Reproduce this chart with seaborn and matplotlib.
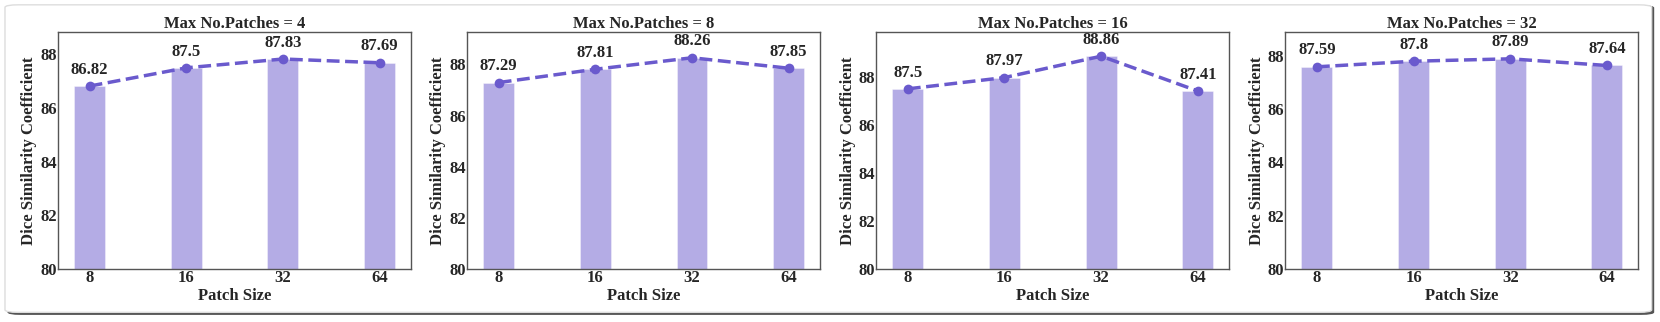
import numpy as np
import pandas as pd
import matplotlib.pyplot as plt
import seaborn as sns
from matplotlib.patches import FancyBboxPatch


# ==========================================
# DATA
# ==========================================

patch_sizes = ["8", "16", "32", "64"]

max_patches = [4, 8, 16, 32]

dice_p4 = [86.82, 87.5, 87.83, 87.69]
dice_p8 = [87.29, 87.81, 88.26, 87.85]
dice_p16 = [87.5, 87.97, 88.86, 87.41]
dice_p32 = [87.59, 87.8, 87.89, 87.64]

all_scores = [dice_p4, dice_p8, dice_p16, dice_p32]

y_ticks = [80, 82, 84, 86, 88]


# ==========================================
# STYLE
# ==========================================

sns.set_style("white")

plt.rcParams["font.family"] = ["Liberation Serif", "DejaVu Serif"]
plt.rcParams["font.weight"] = "bold"
plt.rcParams["axes.labelweight"] = "bold"
plt.rcParams["axes.titleweight"] = "bold"

line_color = "#6a5acd"


# ==========================================
# FIGURE
# ==========================================

fig, axes = plt.subplots(1, 4, figsize=(16.6, 3.22), dpi=100)

plt.subplots_adjust(
    left=0.035,
    right=0.987,
    bottom=0.165,
    top=0.90,
    wspace=0.159
)

# rounded frame with shadow round the whole figure
shadow = FancyBboxPatch(
    (0.0045, 0.022), 0.992, 0.962,
    boxstyle="round,pad=0,rounding_size=0.008",
    transform=fig.transFigure,
    facecolor="#555555",
    edgecolor="none",
    zorder=-3
)
fig.patches.append(shadow)

frame = FancyBboxPatch(
    (0.003, 0.03), 0.992, 0.955,
    boxstyle="round,pad=0,rounding_size=0.008",
    transform=fig.transFigure,
    facecolor="white",
    edgecolor="#dddddd",
    linewidth=1.0,
    zorder=-2
)
fig.patches.append(frame)

for ax, n_patch, scores in zip(axes, max_patches, all_scores):

    df = pd.DataFrame({
        "Patch Size": patch_sizes,
        "Dice": scores
    })

    sns.barplot(
        data=df,
        x="Patch Size",
        y="Dice",
        color=line_color,
        saturation=1,
        alpha=0.5,
        width=0.32,
        edgecolor="white",
        linewidth=0.5,
        ax=ax
    )

    sns.lineplot(
        x=np.arange(len(scores)),
        y=scores,
        color=line_color,
        linestyle="--",
        linewidth=2.5,
        marker="o",
        markersize=7,
        markeredgewidth=0,
        ax=ax
    )

    for i, v in enumerate(scores):

        ax.annotate(
            f"{v:g}",
            (i, v),
            xytext=(0, 6),
            textcoords="offset points",
            ha="center",
            va="bottom",
            fontsize=12,
            fontweight="bold"
        )

    ax.set_ylim(80, max(scores) + 1)

    ax.set_yticks(
        y_ticks,
        [str(t) for t in y_ticks],
        fontsize=12,
        fontweight="bold"
    )

    ax.set_xticks(
        range(len(patch_sizes)),
        patch_sizes,
        fontsize=12,
        fontweight="bold"
    )

    ax.set_title(
        f"Max No.Patches = {n_patch}",
        fontsize=12,
        fontweight="bold",
        pad=3
    )

    ax.set_xlabel("Patch Size", fontsize=12, fontweight="bold", labelpad=1)

    ax.set_ylabel(
        "Dice Similarity Coefficient",
        fontsize=12,
        fontweight="bold",
        labelpad=2
    )

    ax.tick_params(axis="both", pad=1, length=0)

    for spine in ax.spines.values():
        spine.set_color("#555555")
        spine.set_linewidth(1.0)

plt.savefig("out.png", dpi=100)
